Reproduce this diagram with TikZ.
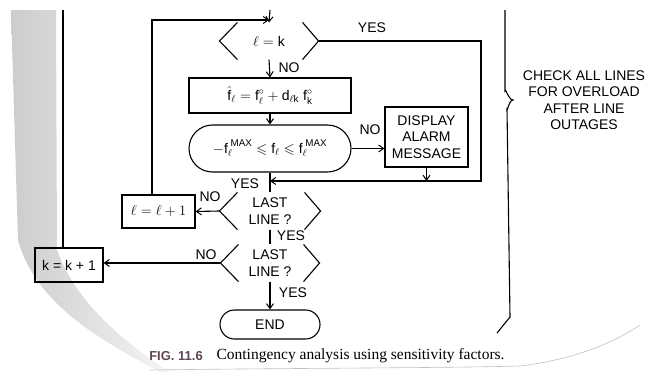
\documentclass[tikz,border=0pt]{standalone}
\usepackage{amsmath,amssymb}
\usepackage{fontspec}
\setmainfont{Liberation Sans}
\newfontfamily\capfont{Liberation Serif}
\usetikzlibrary{arrows.meta}
\definecolor{smudge}{RGB}{95,70,85}

\begin{document}
\begin{tikzpicture}[x=1pt,y=-1pt,
  line width=1.1pt,
  every node/.style={font=\fontsize{14}{16.5}\selectfont, inner sep=0pt},
  flow/.style={-{Straight Barb[length=5pt,width=7pt,line width=1pt]}},
  procbox/.style={draw, rectangle, align=center},
  termbox/.style={draw, rectangle, align=center},
  decide/.style={rectangle, align=center, minimum width=#1, minimum height=36},
  lbl/.style={inner sep=1pt}
]
\useasboundingbox (0,0) rectangle (650,372);

% ---- shadow along the page edge ----------------------------------------
\shade[left color=black!20, right color=black!4, draw=none]
  (11,10) -- (56,10) -- (57,250) .. controls (75,300) and (120,340) .. (170,372)
  -- (160,372) .. controls (90,335) and (35,300) .. (18,240) -- cycle;
\draw[black!25, line width=0.6pt] (150,370) .. controls (300,368) and (450,368) .. (520,366)
  .. controls (570,360) and (610,345) .. (640,325);

% ---- nodes -------------------------------------------------------------
\node[decide=98] (d1) at (269,41) {$\ell = \text{k}$};
\node[procbox, minimum width=162, minimum height=35] (upd) at (270,95.5)
  {$\hat{\text{f}}_{\ell} = \text{f}^{\circ}_{\ell} + \text{d}_{\ell\text{k}}\;\text{f}^{\circ}_{\text{k}}$};
\node[termbox, minimum width=162, minimum height=47, rounded corners=23.5pt] (chk) at (270,148.5)
  {$-\text{f}_{\ell}^{\;\text{MAX}} \leqslant \text{f}_{\ell} \leqslant \text{f}_{\ell}^{\;\text{MAX}}$};
\node[procbox, minimum width=83, minimum height=60] (alarm) at (426.5,137)
  {DISPLAY\\ALARM\\MESSAGE};
\node[decide=100] (d2) at (270,211) {LAST\\LINE ?};
\node[decide=98] (d3) at (270,263) {LAST\\LINE ?};
\node[termbox, minimum width=100, minimum height=29, rounded corners=14.5pt] (end) at (270,324.5) {END};
\node[procbox, minimum width=73, minimum height=33] (inc) at (158.5,211.5) {$\ell = \ell + 1$};
\node[procbox, minimum width=68, minimum height=34] (kinc) at (69,265) {k = k + 1};

% ---- decision chevrons -------------------------------------------------
\foreach \d in {d1,d2,d3}{
  \draw ([xshift=18pt]\d.north west) -- (\d.west) -- ([xshift=18pt]\d.south west);
  \draw ([xshift=-16pt]\d.north east) -- (\d.east) -- ([xshift=-16pt]\d.south east);
}

% ---- helper points -----------------------------------------------------
\coordinate (entry) at (270,10);
\coordinate (lcorner) at (152,20);
\coordinate (ktop) at (63,10);
\coordinate (yesr) at (481,0);
\coordinate (join) at (270,181);

% ---- connectors --------------------------------------------------------
\draw[flow] (entry) -- (d1.north);
\draw[flow] (inc.north -| lcorner) -- (lcorner) -- (lcorner -| d1.north);
\draw (kinc.north -| ktop) -- (ktop);
\draw[flow] (d1.south) -- (upd.north);
\draw[flow] (upd.south) -- (chk.north);
\draw[flow] (chk.east) -- (chk.east -| alarm.west);
\draw[flow] (alarm.south) -- (alarm.south |- join);
\draw[flow] (d1.east) -- (d1.east -| yesr) -- (yesr |- join) -- (join);
\draw (chk.south) -- (d2.north);
\draw[flow] (d2.west) -- (inc.east);
\draw (d2.south) -- (d3.north);
\draw[flow] (d3.west) -- (d3.west -| kinc.east);
\draw[flow] (d3.south) -- (end.north);

% ---- branch labels -----------------------------------------------------
\node[lbl] (l1) at (372,28) {YES};
\node[lbl] (l2) at (289,68) {NO};
\node[lbl] (l3) at (370,130) {NO};
\node[lbl] (l4) at (245,184) {YES};
\node[lbl] (l5) at (210,197) {NO};
\node[lbl] (l6) at (291,236) {YES};
\node[lbl] (l7) at (206,255) {NO};
\node[lbl] (l8) at (293,293) {YES};

% ---- brace and note ----------------------------------------------------
\draw (505,10) -- (505,91) to[out=90,in=180] (513,100)
      to[out=180,in=-90] (507,109) -- (510,317) -- (497,333);
\node[align=center] (note) at (584,100) {CHECK ALL LINES\\FOR OVERLOAD\\AFTER LINE\\OUTAGES};

% ---- caption -----------------------------------------------------------
\node[font=\fontsize{13}{15}\selectfont\bfseries, text=smudge] (fig) at (176,356) {FIG. 11.6};
\node[anchor=west, font=\capfont\fontsize{15.5}{17}\selectfont] (cap) at (216,356)
  {Contingency analysis using sensitivity factors.};
\end{tikzpicture}
\end{document}
